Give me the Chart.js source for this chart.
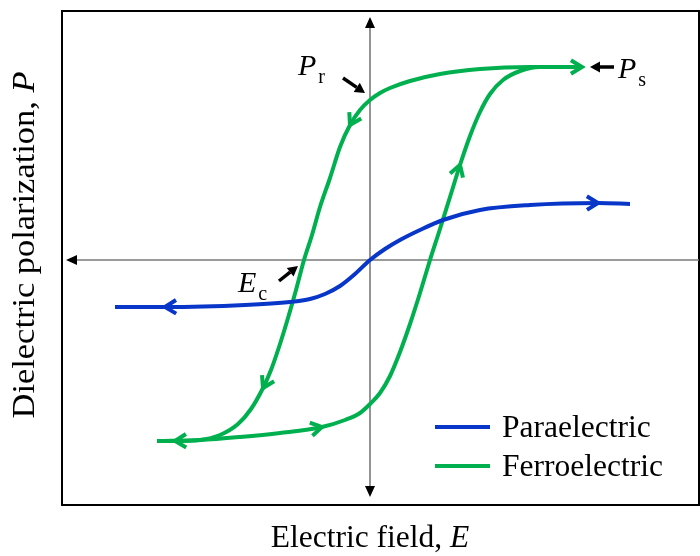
<!DOCTYPE html>
<html>
<head>
<meta charset="utf-8">
<script src="https://cdn.jsdelivr.net/npm/chart.js@4/dist/chart.umd.min.js"></script>
<style>
  html, body { margin: 0; padding: 0; background: #fff; }
  #plot { display: block; }
</style>
</head>
<body>
<canvas id="plot" width="700" height="556"></canvas>
<script>
'use strict';

// Ferroelectric hysteresis loop, upper branch (from +Ps sweeping down to -Ps)
const ferroUpperE = [2.12, 1.60, 1.10, 0.70, 0.40, 0.20, 0.10, 0, -0.10, -0.20, -0.30, -0.40, -0.50, -0.58, -0.66, -0.74, -0.82, -0.90, -0.99, -1.07, -1.19, -1.32, -1.50, -1.70, -1.95, -2.13];
const ferroUpperP = [1.93, 1.93, 1.91, 1.86, 1.79, 1.72, 1.67, 1.60, 1.50, 1.35, 1.13, 0.82, 0.53, 0.25, 0, -0.30, -0.58, -0.84, -1.10, -1.28, -1.49, -1.64, -1.75, -1.80, -1.81, -1.81];

// Lower branch (from -Ps sweeping back up to +Ps)
const ferroLowerE = [-2.13, -1.70, -1.30, -0.90, -0.48, -0.25, -0.10, 0, 0.10, 0.20, 0.30, 0.40, 0.50, 0.60, 0.70, 0.80, 0.90, 1.00, 1.10, 1.20, 1.33, 1.50, 1.70, 2.12];
const ferroLowerP = [-1.81, -1.80, -1.77, -1.73, -1.67, -1.60, -1.53, -1.44, -1.33, -1.16, -0.92, -0.64, -0.33, 0, 0.31, 0.63, 0.95, 1.24, 1.48, 1.66, 1.80, 1.89, 1.93, 1.93];

// Paraelectric response
const paraE = [-2.55, -2.05, -1.25, -0.80, -0.60, -0.45, -0.30, -0.15, 0, 0.15, 0.30, 0.50, 0.73, 1.10, 1.60, 2.28, 2.60];
const paraP = [-0.47, -0.47, -0.45, -0.42, -0.39, -0.34, -0.26, -0.14, 0, 0.11, 0.20, 0.30, 0.40, 0.50, 0.55, 0.57, 0.56];

const legendLabels = ['Paraelectric', 'Ferroelectric'];

const BLUE = '#0836c9';
const GREEN = '#00b04f';
const SERIF = '"Liberation Serif", "Times New Roman", serif';

// direction markers along the curves: dataset index, point index, reversed?
const flowArrows = [
    { ds: 0, at: 1, rev: true },
    { ds: 0, at: 15, rev: false },
    { ds: 1, at: 9, rev: false },
    { ds: 1, at: 19, rev: false },
    { ds: 1, at: 24, rev: false },
    { ds: 2, at: 4, rev: false },
    { ds: 2, at: 16, rev: false },
    { ds: 2, at: 23, rev: false },
];

function toPoints(xs, ys) {
    return xs.map((x, i) => ({ x: x, y: ys[i] }));
}

// characteristic points read back from the loop itself
const iPr = ferroUpperE.indexOf(0);
const iEc = ferroUpperP.indexOf(0);
const Pr = { x: 0, y: ferroUpperP[iPr] };
const Ps = { x: ferroUpperE[0], y: ferroUpperP[0] };
const Ec = { x: ferroUpperE[iEc], y: 0 };

function filledArrow(ctx, x0, y0, x1, y1, head, half, width, color) {
    const a = Math.atan2(y1 - y0, x1 - x0);
    const bx = x1 - head * Math.cos(a), by = y1 - head * Math.sin(a);
    ctx.save();
    ctx.strokeStyle = color;
    ctx.fillStyle = color;
    if (width > 0) {
        ctx.lineWidth = width;
        ctx.beginPath();
        ctx.moveTo(x0, y0);
        ctx.lineTo(bx, by);
        ctx.stroke();
    }
    ctx.beginPath();
    ctx.moveTo(x1, y1);
    ctx.lineTo(bx + half * Math.sin(a), by - half * Math.cos(a));
    ctx.lineTo(bx - half * Math.sin(a), by + half * Math.cos(a));
    ctx.closePath();
    ctx.fill();
    ctx.restore();
}

function subLabel(ctx, main, sub, x, y) {
    ctx.save();
    ctx.fillStyle = '#000';
    ctx.textBaseline = 'alphabetic';
    ctx.textAlign = 'left';
    ctx.font = 'italic 30px ' + SERIF;
    ctx.fillText(main, x, y);
    const w = ctx.measureText(main).width;
    ctx.font = '20px ' + SERIF;
    ctx.fillText(sub, x + w + 2, y + 8);
    ctx.restore();
}

// plain text followed by an italic symbol, centred on (0, 0) of the current transform
function mixedTitle(ctx, plain, symbol, size) {
    ctx.font = size + 'px ' + SERIF;
    const w1 = ctx.measureText(plain).width;
    ctx.font = 'italic ' + size + 'px ' + SERIF;
    const w2 = ctx.measureText(symbol).width;
    const sx = -(w1 + w2) / 2;
    ctx.font = size + 'px ' + SERIF;
    ctx.fillText(plain, sx, 0);
    ctx.font = 'italic ' + size + 'px ' + SERIF;
    ctx.fillText(symbol, sx + w1, 0);
}

const framePlugin = {
    id: 'frame',
    beforeDatasetsDraw(chart) {
        const { ctx, chartArea: a, scales: { x, y } } = chart;
        const x0 = x.getPixelForValue(0), y0 = y.getPixelForValue(0);
        ctx.save();
        // box
        ctx.strokeStyle = '#000';
        ctx.lineWidth = 2;
        ctx.strokeRect(a.left, a.top, a.right - a.left, a.bottom - a.top);
        // E and P axes
        ctx.strokeStyle = '#7a7a7a';
        ctx.lineWidth = 1.6;
        ctx.beginPath();
        ctx.moveTo(a.left + 10, y0);
        ctx.lineTo(a.right, y0);
        ctx.moveTo(x0, a.top + 12);
        ctx.lineTo(x0, a.bottom - 14);
        ctx.stroke();
        ctx.restore();
        filledArrow(ctx, a.left + 20, y0, a.left + 4, y0, 11, 5, 0, '#000');
        filledArrow(ctx, x0, a.top + 30, x0, a.top + 6, 11, 5, 0, '#000');
        filledArrow(ctx, x0, a.bottom - 30, x0, a.bottom - 8, 11, 5, 0, '#000');
    },
    afterDatasetsDraw(chart) {
        const { ctx, scales: { x, y } } = chart;

        // open chevrons showing sweep direction
        flowArrows.forEach(f => {
            const pts = chart.getDatasetMeta(f.ds).data;
            const p = pts[f.at];
            const prev = pts[Math.max(f.at - 1, 0)];
            const next = pts[Math.min(f.at + 1, pts.length - 1)];
            let ang = Math.atan2(next.y - prev.y, next.x - prev.x);
            if (f.rev) ang += Math.PI;
            const len = 13, spread = 0.55;
            ctx.save();
            ctx.strokeStyle = chart.data.datasets[f.ds].borderColor;
            ctx.lineWidth = 4;
            ctx.beginPath();
            ctx.moveTo(p.x - len * Math.cos(ang - spread), p.y - len * Math.sin(ang - spread));
            ctx.lineTo(p.x, p.y);
            ctx.lineTo(p.x - len * Math.cos(ang + spread), p.y - len * Math.sin(ang + spread));
            ctx.stroke();
            ctx.restore();
        });

        // Pr, Ps and Ec call-outs
        const pr = { x: x.getPixelForValue(Pr.x), y: y.getPixelForValue(Pr.y) };
        const ps = { x: x.getPixelForValue(Ps.x), y: y.getPixelForValue(Ps.y) };
        const ec = { x: x.getPixelForValue(Ec.x), y: y.getPixelForValue(Ec.y) };
        filledArrow(ctx, pr.x - 27, pr.y - 22, pr.x - 5, pr.y - 7, 10, 5.5, 3.5, '#000');
        filledArrow(ctx, ps.x + 32, ps.y, ps.x + 8, ps.y, 10, 5.5, 3.5, '#000');
        filledArrow(ctx, ec.x - 25, ec.y + 21, ec.x - 6, ec.y + 6, 10, 5.5, 3.5, '#000');
        subLabel(ctx, 'P', 'r', pr.x - 72, pr.y - 25);
        subLabel(ctx, 'P', 's', ps.x + 36, ps.y + 11);
        subLabel(ctx, 'E', 'c', ec.x - 66, ec.y + 32);

        // legend
        const colors = [BLUE, GREEN];
        ctx.save();
        ctx.font = '31.5px ' + SERIF;
        ctx.fillStyle = '#000';
        ctx.textAlign = 'left';
        ctx.textBaseline = 'alphabetic';
        legendLabels.forEach((label, i) => {
            const ly = 427 + i * 39;
            ctx.strokeStyle = colors[i];
            ctx.lineWidth = 4;
            ctx.beginPath();
            ctx.moveTo(435, ly);
            ctx.lineTo(490, ly);
            ctx.stroke();
            ctx.fillText(label, 502, ly + 10);
        });
        ctx.restore();

        // axis titles
        ctx.save();
        ctx.fillStyle = '#000';
        ctx.textBaseline = 'alphabetic';
        ctx.textAlign = 'left';
        ctx.translate(x.getPixelForValue(0), 547);
        mixedTitle(ctx, 'Electric field, ', 'E', 31.5);
        ctx.restore();

        ctx.save();
        ctx.fillStyle = '#000';
        ctx.textBaseline = 'alphabetic';
        ctx.textAlign = 'left';
        ctx.translate(34, 245);
        ctx.rotate(-Math.PI / 2);
        ctx.scale(1.11, 1);
        mixedTitle(ctx, 'Dielectric polarization, ', 'P', 31);
        ctx.restore();
    }
};

const lineStyle = {
    showLine: true,
    pointRadius: 0,
    pointHoverRadius: 0,
    borderWidth: 4,
    cubicInterpolationMode: 'monotone',
    fill: false,
};

new Chart(document.getElementById('plot').getContext('2d'), {
    type: 'scatter',
    data: {
        datasets: [
            Object.assign({ label: legendLabels[0], data: toPoints(paraE, paraP), borderColor: BLUE }, lineStyle),
            Object.assign({ label: legendLabels[1], data: toPoints(ferroUpperE, ferroUpperP), borderColor: GREEN }, lineStyle),
            Object.assign({ label: legendLabels[1], data: toPoints(ferroLowerE, ferroLowerP), borderColor: GREEN }, lineStyle),
        ]
    },
    options: {
        responsive: false,
        animation: false,
        layout: { padding: { left: 62, top: 11, right: 1, bottom: 51 } },
        plugins: {
            legend: { display: false },
            tooltip: { enabled: false }
        },
        scales: {
            x: { type: 'linear', min: -3.08, max: 3.29, display: false },
            y: { type: 'linear', min: -2.45, max: 2.49, display: false }
        }
    },
    plugins: [framePlugin]
});
</script>
</body>
</html>
